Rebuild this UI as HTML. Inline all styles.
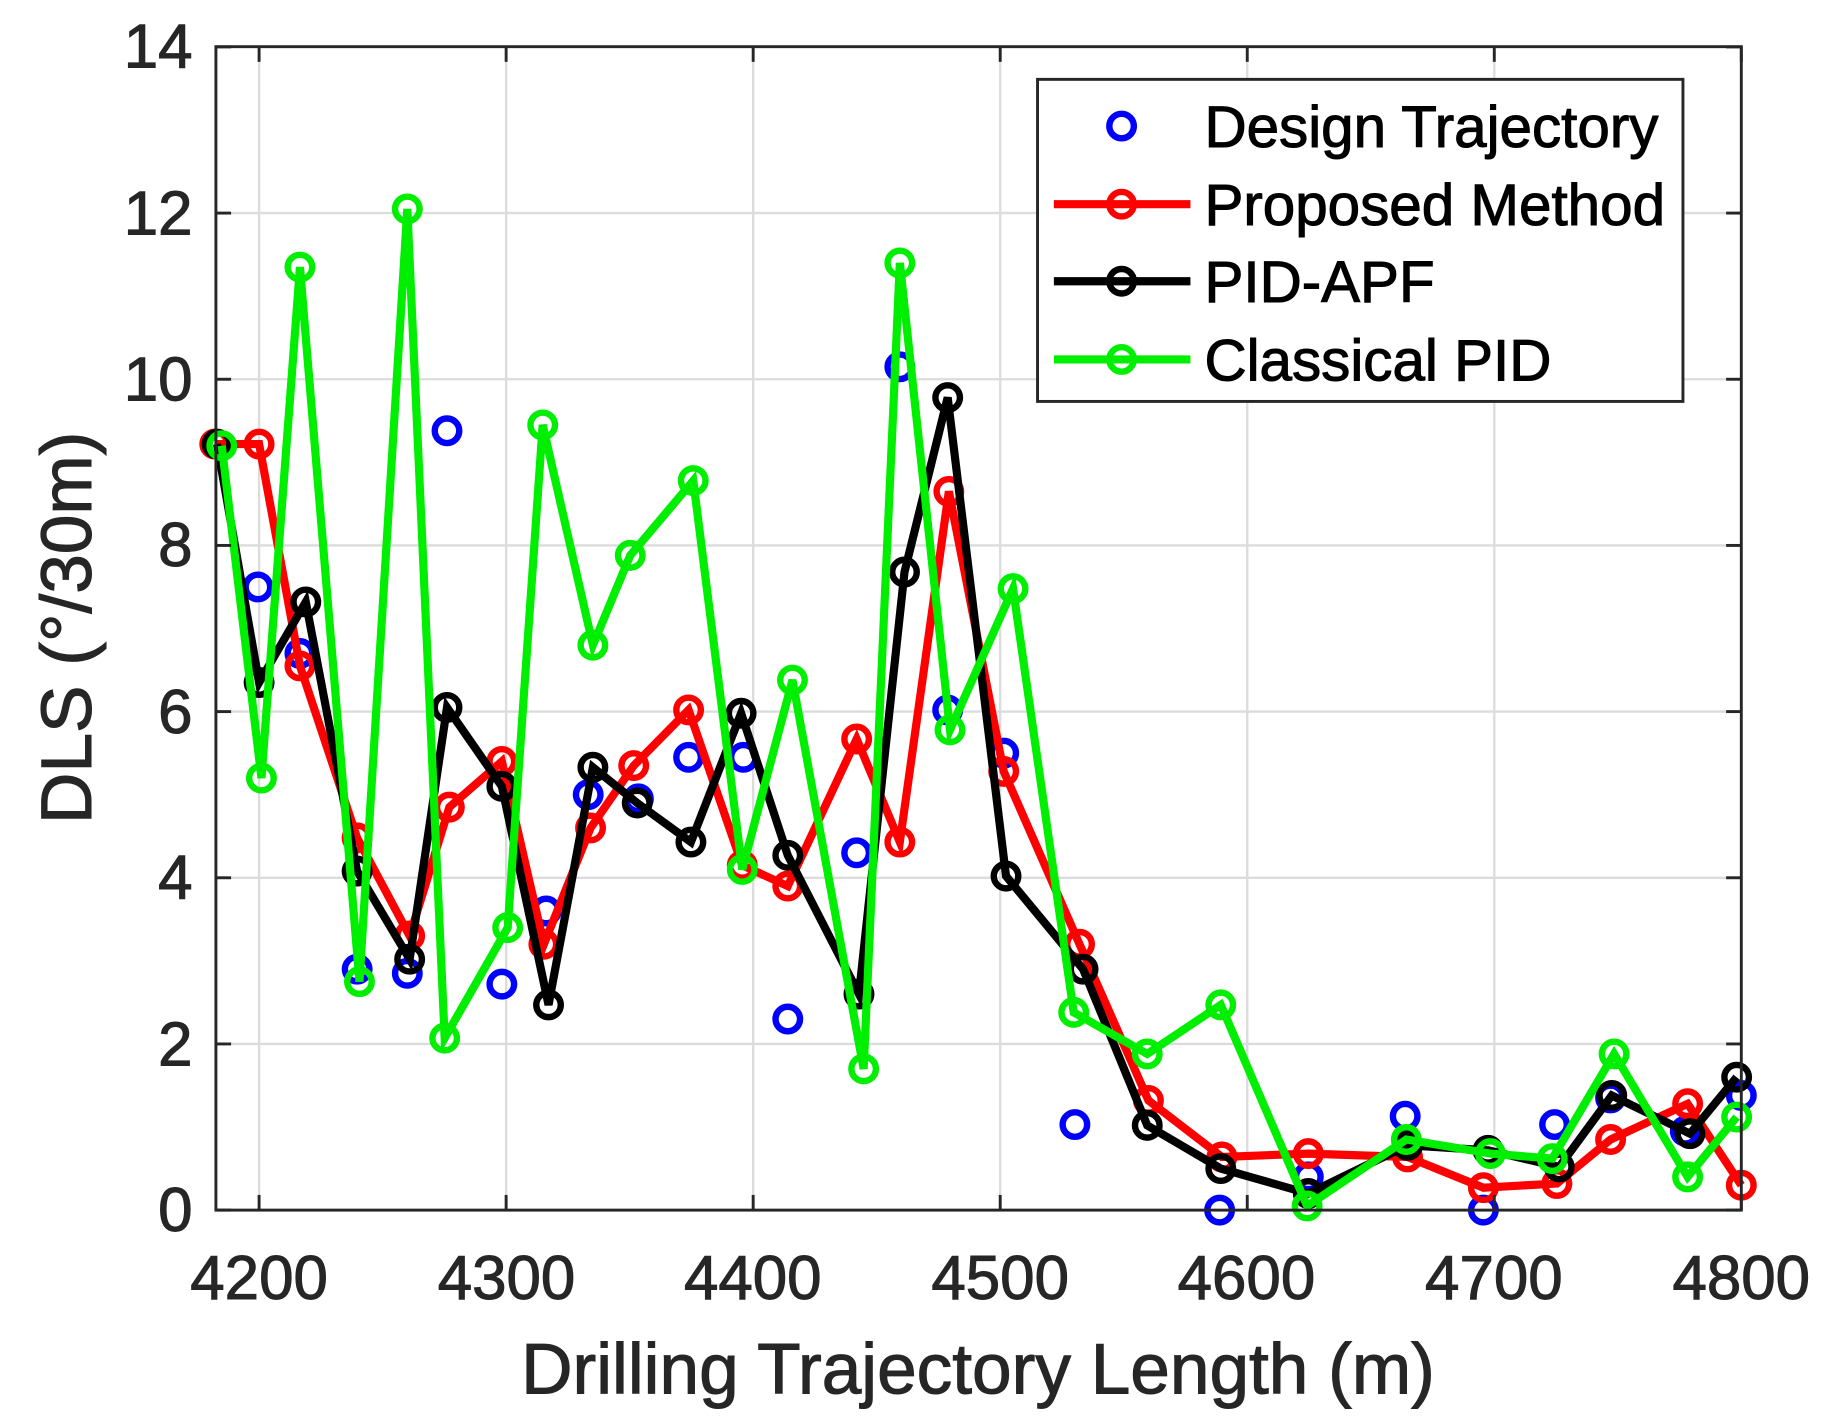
<!DOCTYPE html>
<html><head><meta charset="utf-8"><style>
html,body{margin:0;padding:0;background:#fff}
svg{display:block}
text{font-family:"Liberation Sans",Arial,sans-serif;fill:#262626;stroke:#262626;stroke-width:0.9}
</style></head><body>
<svg id="s" width="1830" height="1426" viewBox="0 0 1568 1222" preserveAspectRatio="none" xmlns="http://www.w3.org/2000/svg">
<rect x="0" y="0" width="1568" height="1222" fill="#fff"/>
<g id="grid" stroke="#dcdcdc" stroke-width="2"></g>
<g id="data"></g>
<rect x="185" y="40" width="1307" height="997" fill="none" stroke="#262626" stroke-width="2.5"/>
<g id="ticks" stroke="#262626" stroke-width="2.5"></g>
<g font-size="53" text-anchor="end">
<text x="165" y="1055">0</text><text x="165" y="913">2</text><text x="165" y="770">4</text>
<text x="165" y="628">6</text><text x="165" y="485">8</text><text x="165" y="343">10</text>
<text x="165" y="201">12</text><text x="165" y="58">14</text>
</g>
<g font-size="53" text-anchor="middle">
<text x="222" y="1113">4200</text><text x="434" y="1113">4300</text><text x="645" y="1113">4400</text>
<text x="857" y="1113">4500</text><text x="1068" y="1113">4600</text><text x="1280" y="1113">4700</text>
<text x="1492" y="1113">4800</text>
</g>
<text x="838" y="1194" font-size="61" text-anchor="middle">Drilling Trajectory Length (m)</text>
<text transform="translate(78,538) rotate(-90)" font-size="61" text-anchor="middle">DLS (°/30m)</text>
<rect x="889" y="68" width="553" height="276" fill="#fff" stroke="#262626" stroke-width="2.5"/>
<g id="leg"></g>
<g font-size="50">
<text x="1032" y="126" style="fill:#000;stroke:#000">Design Trajectory</text>
<text x="1032" y="193" style="fill:#000;stroke:#000">Proposed Method</text>
<text x="1032" y="259" style="fill:#000;stroke:#000">PID-APF</text>
<text x="1032" y="326" style="fill:#000;stroke:#000">Classical PID</text>
</g>
</svg>
<script>
var NS="http://www.w3.org/2000/svg";
function el(p,t,a){var e=document.createElementNS(NS,t);for(var k in a)e.setAttribute(k,a[k]);p.appendChild(e);return e;}
var Y=function(v){return 1037-v*71.2;};
var g=document.getElementById('grid'),tk=document.getElementById('ticks');
for(var i=0;i<=6;i++){var x=222+i*211.67;el(g,'line',{x1:x,x2:x,y1:40,y2:1037});
el(tk,'line',{x1:x,x2:x,y1:1037,y2:1024});el(tk,'line',{x1:x,x2:x,y1:40,y2:53});}
for(var v=2;v<=12;v+=2){var y=Y(v);el(g,'line',{x1:185,x2:1492,y1:y,y2:y});}
for(var v=0;v<=14;v+=2){var y=Y(v);el(tk,'line',{x1:185,x2:198,y1:y,y2:y});el(tk,'line',{x1:1479,x2:1492,y1:y,y2:y});}
var green=[[190,9.2],[224,5.2],[257,11.35],[308,2.75],[349,12.05],[381,2.07],[435,3.4],[465,9.45],[508,6.8],[540,7.88],[594,8.78],[636,4.1],[679,6.38],[740,1.7],[771,11.4],[814,5.78],[868,7.48],[920,2.38],[983,1.88],[1046,2.47],[1120,0.05],[1205,0.85],[1277,0.68],[1330,0.62],[1383,1.88],[1446,0.4],[1488,1.12]];
var red=[[184,9.22],[222,9.22],[257,6.55],[306,4.48],[351,3.3],[385,4.85],[430,5.4],[466,3.2],[506,4.6],[543,5.35],[590,6.02],[636,4.15],[675,3.9],[734,5.67],[771,4.43],[813,8.65],[860,5.28],[925,3.2],[984,1.32],[1047,0.64],[1121,0.68],[1206,0.64],[1271,0.27],[1334,0.32],[1380,0.85],[1446,1.28],[1492,0.3]];
var black=[[186,9.22],[222,6.35],[262,7.32],[306,4.08],[351,3.02],[383,6.05],[430,5.1],[470,2.47],[508,5.33],[546,4.9],[592,4.43],[635,5.98],[675,4.27],[736,2.6],[775,7.68],[812,9.78],[862,4.02],[928,2.9],[983,1.02],[1046,0.5],[1121,0.2],[1206,0.78],[1275,0.72],[1336,0.52],[1381,1.38],[1448,0.92],[1488,1.6]];
var blue=[[221,7.5],[257,6.7],[306,2.9],[349,2.85],[383,9.38],[430,2.72],[468,3.6],[504,5.0],[547,4.95],[590,5.45],[637,5.45],[675,2.3],[734,4.3],[771,10.15],[812,6.02],[860,5.5],[921,1.03],[1045,0.0],[1121,0.4],[1204,1.13],[1271,0.0],[1332,1.03],[1380,1.35],[1444,0.95],[1492,1.38]];
var d=document.getElementById('data');
function mk(p,x,y,c){el(p,'circle',{cx:x,cy:y,r:10.5,fill:'none',stroke:c,'stroke-width':5.5});}
function series(pts,c,line){
 if(line)el(d,'polyline',{points:pts.map(function(p){return p[0]+','+Y(p[1]);}).join(' '),fill:'none',stroke:c,'stroke-width':7,'stroke-linejoin':'miter'});
 pts.forEach(function(p){mk(d,p[0],Y(p[1]),c);});}
series(blue,'#0000ff',false);
series(red,'#ff0000',true);
series(black,'#000000',true);
series(green,'#00ee00',true);
var L=document.getElementById('leg');
mk(L,961,108,'#0000ff');
[[175,'#ff0000'],[241,'#000000'],[308,'#00ee00']].forEach(function(a){
 el(L,'line',{x1:903,x2:1020,y1:a[0],y2:a[0],stroke:a[1],'stroke-width':7});mk(L,961,a[0],a[1]);});
</script>
</body></html>
